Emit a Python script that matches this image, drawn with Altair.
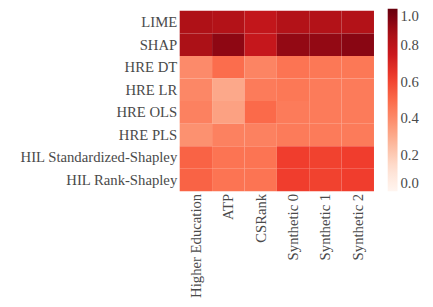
import altair as alt
import pandas as pd

methods = ["LIME", "SHAP", "HRE DT", "HRE LR", "HRE OLS", "HRE PLS",
           "HIL Standardized-Shapley", "HIL Rank-Shapley"]
datasets = ["Higher Education", "ATP", "CSRank", "Synthetic 0", "Synthetic 1", "Synthetic 2"]

lime = [0.84, 0.83, 0.78, 0.83, 0.83, 0.83]
shap = [0.85, 0.92, 0.77, 0.91, 0.91, 0.93]
hre_dt = [0.40, 0.49, 0.42, 0.47, 0.46, 0.46]
hre_lr = [0.41, 0.31, 0.45, 0.46, 0.45, 0.45]
hre_ols = [0.43, 0.33, 0.50, 0.45, 0.45, 0.45]
hre_pls = [0.38, 0.43, 0.43, 0.45, 0.45, 0.45]
hil_std = [0.52, 0.47, 0.47, 0.62, 0.61, 0.62]
hil_rank = [0.52, 0.47, 0.47, 0.62, 0.61, 0.62]

rows = [lime, shap, hre_dt, hre_lr, hre_ols, hre_pls, hil_std, hil_rank]
records = []
for m, vals in zip(methods, rows):
    for d, v in zip(datasets, vals):
        records.append({"method": m, "dataset": d, "value": v})
df = pd.DataFrame(records)

reds_stops = [0, 0.125, 0.25, 0.375, 0.5, 0.625, 0.75, 0.875, 1.0]
reds_colors = ["#fff5f0", "#fee0d2", "#fcbba1", "#fc9272", "#fb6a4a",
               "#ef3b2c", "#cb181d", "#a50f15", "#67000d"]

font = "Liberation Serif"
tc = "#4a4a4a"

chart = alt.Chart(df).mark_rect().encode(
    x=alt.X("dataset:N", sort=datasets, title=None,
            scale=alt.Scale(paddingInner=0, paddingOuter=0),
            axis=alt.Axis(labelAngle=-90, labelFont=font, labelFontSize=15,
                          labelColor=tc, ticks=False, domain=False,
                          labelPadding=2, labelAlign="right", labelBaseline="middle")),
    y=alt.Y("method:N", sort=methods, title=None,
            scale=alt.Scale(paddingInner=0, paddingOuter=0),
            axis=alt.Axis(labelFont=font, labelFontSize=15, labelColor=tc,
                          ticks=False, domain=False, labelPadding=3, labelLimit=300)),
    color=alt.Color("value:Q",
                    scale=alt.Scale(domain=reds_stops, range=reds_colors),
                    legend=alt.Legend(title=None, orient="none", legendX=212, legendY=-2,
                                      type="gradient",
                                      gradientLength=186, gradientThickness=10,
                                      values=[0, 0.2, 0.4, 0.6, 0.8, 1.0],
                                      format=".1f", labelFont=font, labelFontSize=15,
                                      labelColor=tc, labelBaseline="middle",
                                      labelOverlap=False,
                                      gradientStrokeWidth=0, labelOffset=3)),
).properties(
    width=198, height=184,
    padding={"left": 175, "top": 0, "right": 52, "bottom": 115},
    autosize=alt.AutoSizeParams(type="none"),
).configure_view(stroke=None).configure_axis(grid=False)

chart.save("out.html", embed_options={"renderer": "svg", "actions": False})
